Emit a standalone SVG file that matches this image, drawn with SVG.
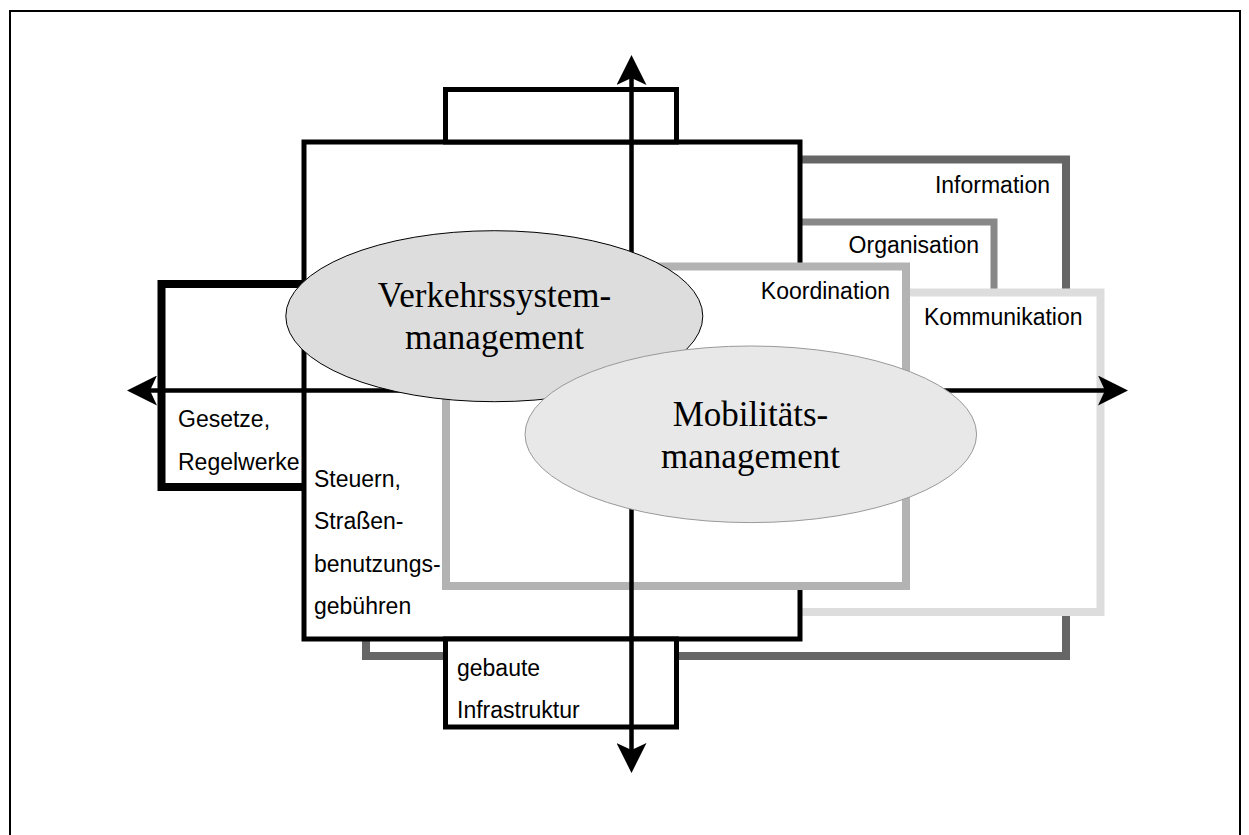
<svg xmlns="http://www.w3.org/2000/svg" width="1249" height="835" viewBox="0 0 1249 835">
  <style>
    .box { fill: #ffffff; }
    .lbl { font-family: "Liberation Sans", Arial, sans-serif; font-size: 23px; fill: #000; }
    .big { font-family: "Liberation Serif", "Times New Roman", serif; font-size: 35px; fill: #000; text-anchor: middle; }
    .axis { stroke: #000; stroke-width: 4.5; fill: none; }
  </style>
  <defs>
    <marker id="arrow" markerUnits="userSpaceOnUse" viewBox="0 0 30 30" markerWidth="30" markerHeight="30" refX="7" refY="15" orient="auto-start-reverse">
      <path d="M0,0 L30,15 L0,30 L7,15 Z" fill="#000"/>
    </marker>
  </defs>

  <rect id="frame" x="0" y="0" width="1249" height="835" fill="#ffffff"/>
  <path d="M10,835 V11 H1240 V835" fill="none" stroke="#000" stroke-width="2"/>

  <g id="information">
    <rect class="box" x="366" y="159.5" width="700" height="496.5" stroke="#666666" stroke-width="8"/>
    <text class="lbl" x="1050" y="193" text-anchor="end">Information</text>
  </g>
  <g id="organisation">
    <rect class="box" x="500" y="222" width="494" height="110" stroke="#888888" stroke-width="7"/>
    <text class="lbl" x="979" y="253" text-anchor="end">Organisation</text>
  </g>
  <g id="kommunikation">
    <rect class="box" x="600" y="292.5" width="500.5" height="319.5" stroke="#dddddd" stroke-width="8"/>
    <text class="lbl" x="924" y="325">Kommunikation</text>
  </g>
  <g id="gesetze">
    <rect class="box" x="161.5" y="284" width="200" height="203" stroke="#000" stroke-width="8"/>
    <text class="lbl" x="178" y="427">Gesetze,</text>
  </g>
  <g id="steuern">
    <rect class="box" x="304" y="142" width="496" height="497" stroke="#000" stroke-width="5"/>
  </g>
  <g id="gesetze-label">
    <text class="lbl" x="178" y="470">Regelwerke</text>
  </g>
  <g id="koordination">
    <rect class="box" x="446" y="266.5" width="460" height="319.5" stroke="#b3b3b3" stroke-width="8"/>
    <text class="lbl" x="890" y="299" text-anchor="end">Koordination</text>
  </g>
  <g id="steuern-label">
    <text class="lbl" x="314" y="487">Steuern,</text>
    <text class="lbl" x="314" y="529">Straßen-</text>
    <text class="lbl" x="314" y="572">benutzungs-</text>
    <text class="lbl" x="314" y="614">gebühren</text>
  </g>
  <g id="top-box">
    <rect class="box" x="445.5" y="89.5" width="231" height="52.5" stroke="#000" stroke-width="5"/>
  </g>
  <g id="infrastruktur">
    <rect class="box" x="445.5" y="639" width="231" height="88" stroke="#000" stroke-width="5"/>
    <text class="lbl" x="457" y="676">gebaute</text>
    <text class="lbl" x="457" y="718">Infrastruktur</text>
  </g>

  <g id="connectors">
    <line class="axis" x1="631.5" y1="78" x2="631.5" y2="750" marker-start="url(#arrow)" marker-end="url(#arrow)"/>
    <line class="axis" x1="150" y1="390.5" x2="1105" y2="390.5" marker-start="url(#arrow)" marker-end="url(#arrow)"/>
  </g>

  <g id="verkehrssystemmanagement">
    <ellipse cx="494.3" cy="316.2" rx="208.5" ry="85.5" fill="#dddddd" stroke="#000" stroke-width="1"/>
    <text class="big" x="494.5" y="307">Verkehrssystem-</text>
    <text class="big" x="494.5" y="349">management</text>
  </g>
  <g id="mobilitaetsmanagement">
    <ellipse cx="750.8" cy="434.3" rx="225.8" ry="88.3" fill="#e8e8e8" stroke="#999999" stroke-width="1"/>
    <text class="big" x="750.5" y="426">Mobilitäts-</text>
    <text class="big" x="750.5" y="468">management</text>
  </g>
</svg>
